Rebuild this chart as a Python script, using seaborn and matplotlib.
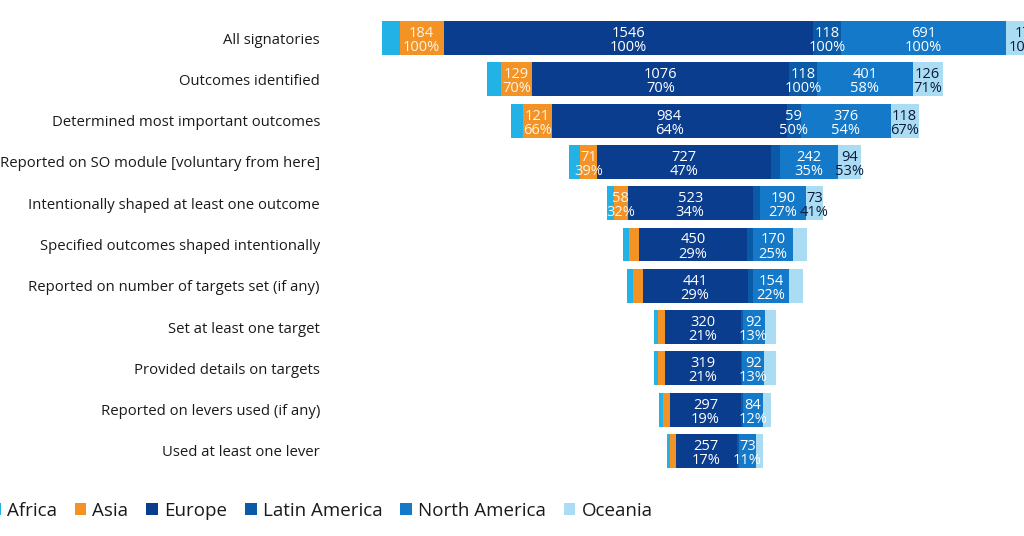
import matplotlib
matplotlib.use("Agg")
import matplotlib.pyplot as plt
import numpy as np
import pandas as pd
import seaborn as sns
import seaborn.objects as so
from seaborn._core.moves import Move
from dataclasses import dataclass
from matplotlib.patches import Patch

# ---------------- data ----------------
stages = [
    "All signatories",
    "Outcomes identified",
    "Determined most important outcomes",
    "Reported on SO module [voluntary from here]",
    "Intentionally shaped at least one outcome",
    "Specified outcomes shaped intentionally",
    "Reported on number of targets set (if any)",
    "Set at least one target",
    "Provided details on targets",
    "Reported on levers used (if any)",
    "Used at least one lever",
]
regions = ["Africa", "Asia", "Europe", "Latin America", "North America", "Oceania"]

africa = [75, 58, 49, 46, 30, 28, 28, 18, 18, 18, 14]
asia = [184, 129, 121, 71, 58, 42, 38, 28, 28, 28, 24]
europe = [1546, 1076, 984, 727, 523, 450, 441, 320, 319, 297, 257]
latin_america = [118, 118, 59, 40, 33, 25, 20, 7, 7, 8, 8]
north_america = [691, 401, 376, 242, 190, 170, 154, 92, 92, 84, 73]
oceania = [177, 126, 118, 94, 73, 58, 58, 50, 50, 35, 30]

# number of (top) rows whose segment carries a value label
labeled_rows = [0, 5, 11, 3, 11, 5]

colors = ["#22b2e6", "#f39325", "#0b3d8f", "#0b5aa8", "#1479c8", "#aadcf4"]
label_colors = ["white", "#fff4e6", "white", "white", "white", "#0d1b3a"]

series = [africa, asia, europe, latin_america, north_america, oceania]

rows = []
for i, st in enumerate(stages):
    for r, vals in zip(regions, series):
        rows.append({"stage": st, "region": r, "value": vals[i]})
df = pd.DataFrame(rows)


@dataclass
class CenterStack(Move):
    """Stack segments along the value axis, centred on zero (funnel)."""

    def __call__(self, data, groupby, orient, scales):
        other = {"x": "y", "y": "x"}[orient]
        g = data.groupby(orient, sort=False)[other]
        end = g.cumsum()
        total = g.transform("sum")
        out = data.copy()
        out["baseline"] = end - data[other] - total / 2
        out[other] = end - total / 2
        return out


FONT = ["Open Sans", "DejaVu Sans"]

fig = plt.figure(figsize=(10.24, 5.36), dpi=100)
fig.patch.set_facecolor("white")
ax = fig.add_axes([0.1, 0.1, 0.8, 0.8])

(
    so.Plot(df, x="value", y="stage", color="region")
    .add(so.Bar(width=0.82, alpha=1, edgewidth=0), CenterStack(), orient="y")
    .scale(color=dict(zip(regions, colors)), y=so.Nominal(order=stages))
    .theme({**sns.axes_style("white")})
    .on(ax)
    .plot()
)
fig.legends.clear()

# geometry (pixels)
W, H = 1024, 536
ax_left, ax_right = 370, 1060
ax_top, ax_bot = 17.4, 471.6
ax.set_position([ax_left / W, (H - ax_bot) / H, (ax_right - ax_left) / W, (ax_bot - ax_top) / H])
ax.set_xlim(-1445, 1445)
ax.set_ylim(len(stages) - 0.5, -0.5)
ax.set_facecolor("white")
for s in ax.spines.values():
    s.set_visible(False)
ax.grid(False)
ax.set_xlabel("")
ax.set_ylabel("")
ax.set_xticks([])
ax.set_yticks(range(len(stages)))
ax.set_yticklabels(stages, fontfamily=FONT, fontsize=10.7, color="#1a1a1a")
ax.tick_params(axis="y", length=0, pad=36)

# value labels
mat = np.array(series, dtype=float)  # regions x stages
totals = mat.sum(axis=0)
cum = np.cumsum(mat, axis=0)
for ri in range(len(regions)):
    for si in range(labeled_rows[ri]):
        v = mat[ri, si]
        mid = cum[ri, si] - v / 2 - totals[si] / 2
        pct = round(100 * v / mat[ri, 0])
        ax.text(mid, si + 0.06, f"{int(v)}\n{pct}%", ha="center", va="center",
                fontsize=10.5, linespacing=0.92, color=label_colors[ri],
                fontfamily=FONT, clip_on=False)

handles = [Patch(facecolor=c, edgecolor="none") for c in colors]
fig.legend(handles, regions, loc="center left", bbox_to_anchor=(-11 / W, 1 - 511 / H),
           ncol=6, frameon=False, prop={"family": FONT, "size": 13.5},
           handlelength=0.62, handleheight=0.62, handletextpad=0.33,
           columnspacing=0.95, borderpad=0, borderaxespad=0, labelcolor="#1a1a1a")

fig.savefig("out.png", dpi=100, facecolor="white")
